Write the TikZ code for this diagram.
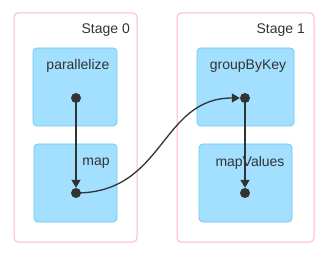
\documentclass[tikz,border=0pt]{standalone}
\usepackage{fontspec}
\setmainfont{Liberation Sans}
\usetikzlibrary{arrows.meta}
\definecolor{stageborder}{HTML}{FFB6C6}
\definecolor{opfill}{HTML}{A3DFFE}
\definecolor{opborder}{HTML}{6AC7F5}
\definecolor{ink}{HTML}{333333}
\begin{document}
\begin{tikzpicture}[x=1pt,y=-1pt,
  stagebox/.style={draw=stageborder,fill=white,line width=1pt,rounded corners=4pt,inner sep=0pt},
  opbox/.style={draw=opborder,fill=opfill,line width=0.8pt,rounded corners=4pt,inner sep=0pt,minimum height=78pt},
  lbl/.style={text=ink,font=\fontsize{14}{16}\selectfont,inner sep=0pt},
  dot/.style={circle,fill=ink,minimum size=10pt,inner sep=0pt},
  edge/.style={draw=ink,line width=1.3pt,-{Triangle[length=8pt,width=9pt]}}]
\useasboundingbox (0,0) rectangle (334,256);
\node[stagebox,minimum width=123pt,minimum height=229pt] (s0) at (75.5,127.5) {};
\node[stagebox,minimum width=137pt,minimum height=229pt] (s1) at (245.5,127.5) {};
\node[lbl,anchor=east] (s0l) at (130,30) {Stage 0};
\node[lbl,anchor=east] (s1l) at (305,30) {Stage 1};
\node[opbox,minimum width=84pt] (par) at (75,87) {};
\node[opbox,minimum width=83pt] (map) at (75.5,183) {};
\node[opbox,minimum width=97pt] (gbk) at (245.5,87) {};
\node[opbox,minimum width=93pt] (mv) at (245.5,183) {};
\node[lbl] (parl) at (78,66) {parallelize};
\node[lbl] (mapl) at (96,163) {map};
\node[lbl] (gbkl) at (248,66) {groupByKey};
\node[lbl] (mvl) at (250,163) {mapValues};
\node[dot] (d1) at (76,98) {};
\node[dot] (d2) at (76,193) {};
\node[dot] (d3) at (245,98) {};
\node[dot] (d4) at (245,193) {};
\draw[edge] (d1.center) -- (d2.north);
\draw[edge] (d3.center) -- (d4.north);
\draw[edge] (d2.center) .. controls (165,193) and (160,98) .. (d3.west);
\end{tikzpicture}
\end{document}
